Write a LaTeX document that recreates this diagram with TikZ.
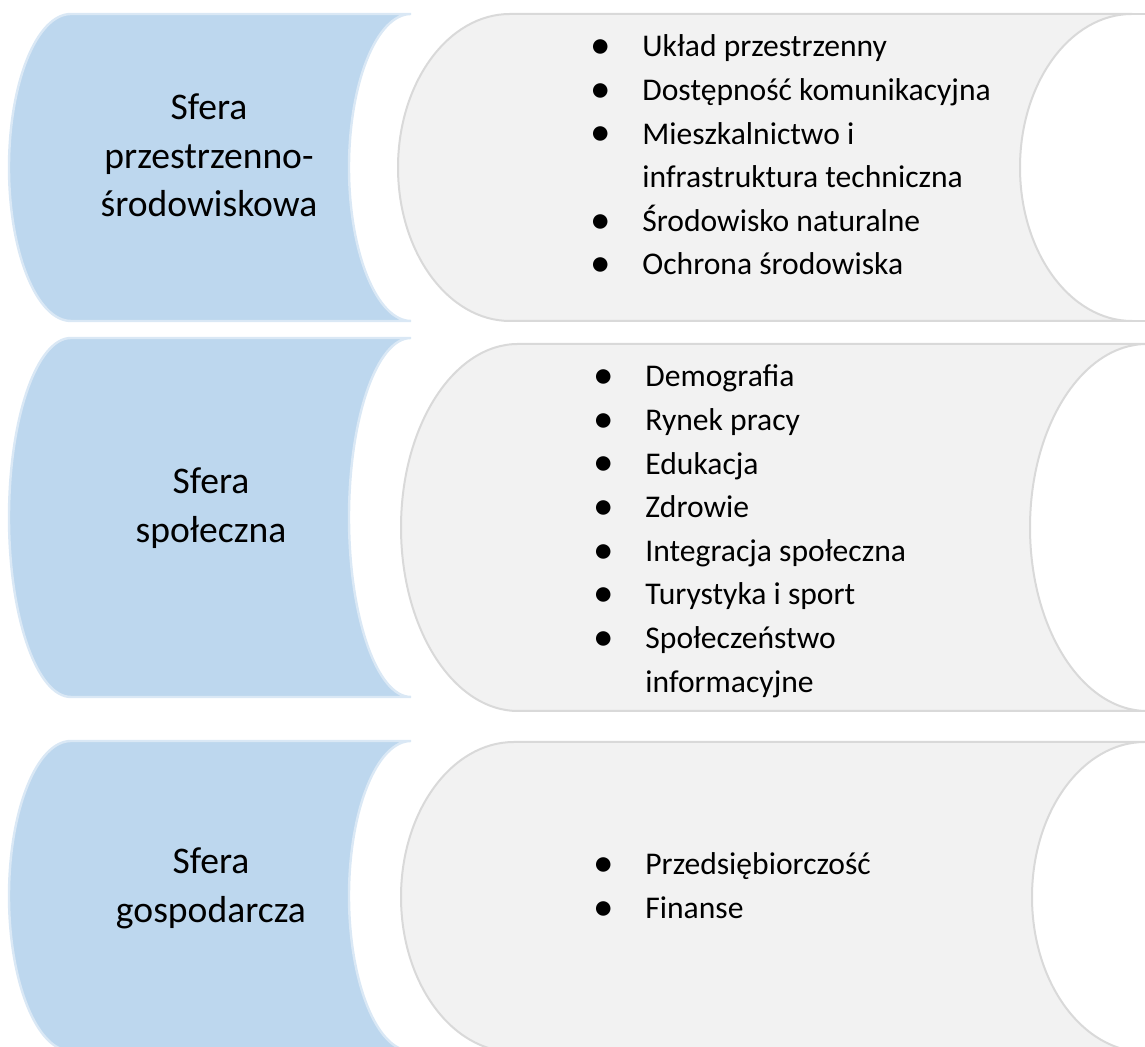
\documentclass[tikz,border=0pt]{standalone}
\usepackage{fontspec}
\setmainfont{Carlito}
\definecolor{sferablue}{HTML}{BDD7EE}
\definecolor{sferaedge}{HTML}{DAE8F5}
\definecolor{listgray}{HTML}{F2F2F2}
\definecolor{listedge}{HTML}{D9D9D9}
\newcommand{\bul}{\makebox[21pt][l]{\makebox[0pt][c]{\raisebox{-0.9pt}{\scalebox{1.3}{\textbullet}}}}}

\begin{document}
\begin{tikzpicture}[x=0.5pt,y=0.5pt,
  bluebar/.style={fill=sferablue,draw=sferaedge,line width=1.2pt},
  graybar/.style={fill=listgray,draw=listedge,line width=1pt},
  grayline/.style={draw=listedge,line width=1pt},
  sferatext/.style={inner sep=0,anchor=base,font={\fontsize{18.8}{24.2}\selectfont}},
  listtext/.style={inner sep=0,anchor=base west,font={\fontsize{15.8}{21.8}\selectfont}}]
\useasboundingbox (0,0) rectangle (1145,1047);
\clip (0,0) rectangle (1145,1047);
% sfera przestrzenno-srodowiskowa
\draw[bluebar] (71,1033) -- (411,1033) arc[start angle=90,end angle=270,x radius=62,y radius=153.5]
  -- (71,726) arc[start angle=270,end angle=90,x radius=62,y radius=153.5] -- cycle;
\draw[graybar] (510,1033) -- (1132,1033) arc[start angle=90,end angle=270,x radius=112,y radius=153.5]
  -- (510,726) arc[start angle=270,end angle=90,x radius=112,y radius=153.5] -- cycle;
\draw[grayline] (1132,1033) -- (1150,1033) (1132,726) -- (1150,726);
% sfera spoleczna
\draw[bluebar] (71,709) -- (411,709) arc[start angle=90,end angle=270,x radius=62,y radius=179.5]
  -- (71,350) arc[start angle=270,end angle=90,x radius=62,y radius=179.5] -- cycle;
\draw[graybar] (518,703) -- (1147,703) arc[start angle=90,end angle=270,x radius=117,y radius=183.5]
  -- (518,336) arc[start angle=270,end angle=90,x radius=117,y radius=183.5] -- cycle;
% sfera gospodarcza
\draw[bluebar] (71,306) -- (411,306) arc[start angle=90,end angle=270,x radius=62,y radius=155]
  -- (71,-4) arc[start angle=270,end angle=90,x radius=62,y radius=155] -- cycle;
\draw[graybar] (514,305) -- (1145,305) arc[start angle=90,end angle=270,x radius=113,y radius=155]
  -- (514,-5) arc[start angle=270,end angle=90,x radius=113,y radius=155] -- cycle;

\node[sferatext] (sfera1) at (209,927) {\begin{tabular}[t]{@{}c@{}}Sfera\\przestrzenno-\\środowiskowa\end{tabular}};
\node[sferatext] (sfera2) at (211,553) {\begin{tabular}[t]{@{}c@{}}Sfera\\społeczna\end{tabular}};
\node[sferatext] (sfera3) at (211,173) {\begin{tabular}[t]{@{}c@{}}Sfera\\gospodarcza\end{tabular}};

\node[listtext] (lista1) at (600,990) {\begin{tabular}[t]{@{}l@{}l@{}}
\bul & Układ przestrzenny\\
\bul & Dostępność komunikacyjna\\
\bul & Mieszkalnictwo i\\
     & infrastruktura techniczna\\
\bul & Środowisko naturalne\\
\bul & Ochrona środowiska
\end{tabular}};
\node[listtext] (lista2) at (603,660) {\begin{tabular}[t]{@{}l@{}l@{}}
\bul & Demografia\\
\bul & Rynek pracy\\
\bul & Edukacja\\
\bul & Zdrowie\\
\bul & Integracja społeczna\\
\bul & Turystyka i sport\\
\bul & Społeczeństwo\\
     & informacyjne
\end{tabular}};
\node[listtext] (lista3) at (603,172) {\begin{tabular}[t]{@{}l@{}l@{}}
\bul & Przedsiębiorczość\\
\bul & Finanse
\end{tabular}};
\end{tikzpicture}
\end{document}
